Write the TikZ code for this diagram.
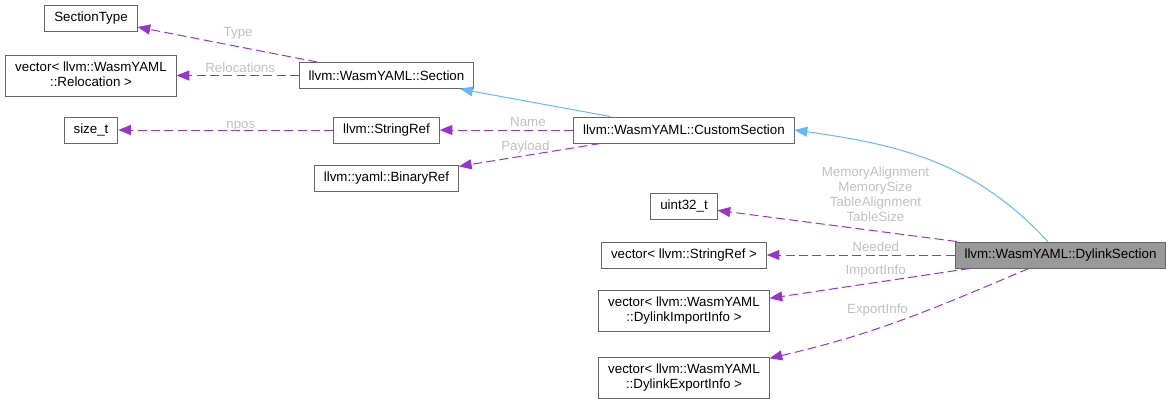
\documentclass[tikz,border=0pt]{standalone}
\usepackage{fontspec}
\setmainfont{Liberation Sans}
\usetikzlibrary{matrix,arrows.meta}
\definecolor{depcol}{HTML}{9A32CD}
\definecolor{inhcol}{HTML}{63B8FF}
\definecolor{boxcol}{HTML}{666666}
\definecolor{curfill}{HTML}{999999}
\definecolor{lblcol}{HTML}{C0C0C0}
\newcommand{\stacked}[2]{\begin{tabular}{@{}c@{}}#1\\#2\end{tabular}}
\tikzset{
  box/.style={draw=boxcol, line width=0.75pt, fill=white, anchor=center,
    inner xsep=7pt, inner ysep=1.5pt, minimum height=19.5pt},
  box2/.style={minimum height=30.75pt},
  cur/.style={fill=curfill},
  lbl/.style={text=lblcol, inner sep=0pt, align=center},
  dep/.style={color=depcol, line width=0.75pt, dash pattern=on 6.75pt off 3.25pt,
    -{Triangle[length=9.5pt,width=7.5pt]}},
  inh/.style={color=inhcol, line width=0.75pt, -{Triangle[length=9.5pt,width=7.5pt]}}
}

\begin{document}
\begin{tikzpicture}[x=0.75pt, y=-0.75pt, font=\fontsize{10}{11.25}\selectfont]
  \useasboundingbox (0,0) rectangle (1172,404);
  \matrix (m) [matrix of nodes, nodes={box}, column sep={0pt,between origins},
    row sep={0pt,between origins}, matrix anchor=m-1-1.center] at (91,18)
  {
    SectionType &[221.625pt] &[223.125pt] &[282.375pt] \\[43.125pt]
    |[box2]| \stacked{vector< llvm::WasmYAML}{::Relocation >} & llvm::WasmYAML::Section & & \\[40.875pt]
    size\_t & llvm::StringRef & llvm::WasmYAML::CustomSection & \\[36pt]
    & llvm::yaml::BinaryRef & & \\[21pt]
    & & uint32\_t & \\[36.75pt]
    & & vector< llvm::StringRef > & |[cur]| llvm::WasmYAML::DylinkSection \\[42pt]
    & & |[box2]| \stacked{vector< llvm::WasmYAML}{::DylinkImportInfo >} & \\[50.25pt]
    & & |[box2]| \stacked{vector< llvm::WasmYAML}{::DylinkExportInfo >} & \\
  };
  \path[dep]
  (m-2-2) edge node [lbl, pos=0.44, above=4.8pt] {Type} (m-1-1)
  (m-2-2) edge node [lbl, pos=0.48, above=1.8pt] {Relocations} (m-2-1)
  (m-3-2) edge node [lbl, pos=0.43, above=-1pt] {npos} (m-3-1)
  (m-3-3) edge node [lbl, pos=0.34, above=2.4pt] {Name} (m-3-2)
  (m-3-3) edge node [lbl, pos=0.53, above=1.3pt] {Payload} (m-4-2)
  (m-6-4) edge node [lbl, pos=0.34, above=6.75pt] {MemoryAlignment\\MemorySize\\TableAlignment\\TableSize} (m-5-3)
  (m-6-4) edge node [lbl, pos=0.42, above=2.4pt] {Needed} (m-6-3)
  (m-6-4) edge node [lbl, pos=0.47, above=3.5pt] {ImportInfo} (m-7-3)
  (m-6-4) edge [out=203, in=13] node [lbl, pos=0.6, above=9pt] {ExportInfo} (m-8-3)
  ;
  \path[inh]
  (m-3-3) edge (m-2-2)
  (m-6-4) edge [out=133, in=-8] (m-3-3.east)
  ;
\end{tikzpicture}
\end{document}
